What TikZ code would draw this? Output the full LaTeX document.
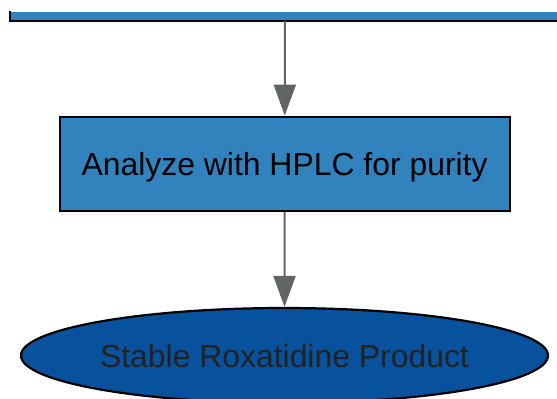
\documentclass[tikz,border=0pt]{standalone}
\usepackage{fontspec}
\setmainfont{Liberation Sans}
\usetikzlibrary{arrows.meta,shapes.geometric}
\definecolor{stepblue}{RGB}{49,130,189}
\definecolor{darkblue}{RGB}{8,81,156}
\definecolor{flowgray}{RGB}{99,100,104}
\definecolor{labelgray}{RGB}{34,34,34}
\begin{document}
\begin{tikzpicture}[x=1pt,y=-1pt,
  every node/.style={font=\fontsize{31.9}{38}\selectfont,text depth=0pt},
  stepbox/.style={rectangle,fill=stepblue,draw=black,line width=2.2pt,minimum width=450pt,minimum height=94pt,inner sep=0pt},
  endbox/.style={ellipse,fill=darkblue,draw=black,line width=2.2pt,minimum width=527pt,minimum height=95pt,inner sep=0pt,text=labelgray},
  flow/.style={-{Triangle[length=31pt,width=22pt]},color=flowgray,line width=2pt}]
  \useasboundingbox (0,0) rectangle (557,399);
  \node[stepbox,draw=none,minimum width=548pt,minimum height=8pt] (prep) at (285,16) {};
  \draw[line width=2.2pt] (prep.north west) -- (prep.south west) -- (prep.south east);
  \node[stepbox] (hplc) at (284.6,163.7) {Analyze with HPLC for purity};
  \node[endbox] (product) at (284.5,355.5) {Stable Roxatidine Product};
  \draw[flow] (prep) -- (hplc);
  \draw[flow] (hplc) -- (product);
\end{tikzpicture}
\end{document}
